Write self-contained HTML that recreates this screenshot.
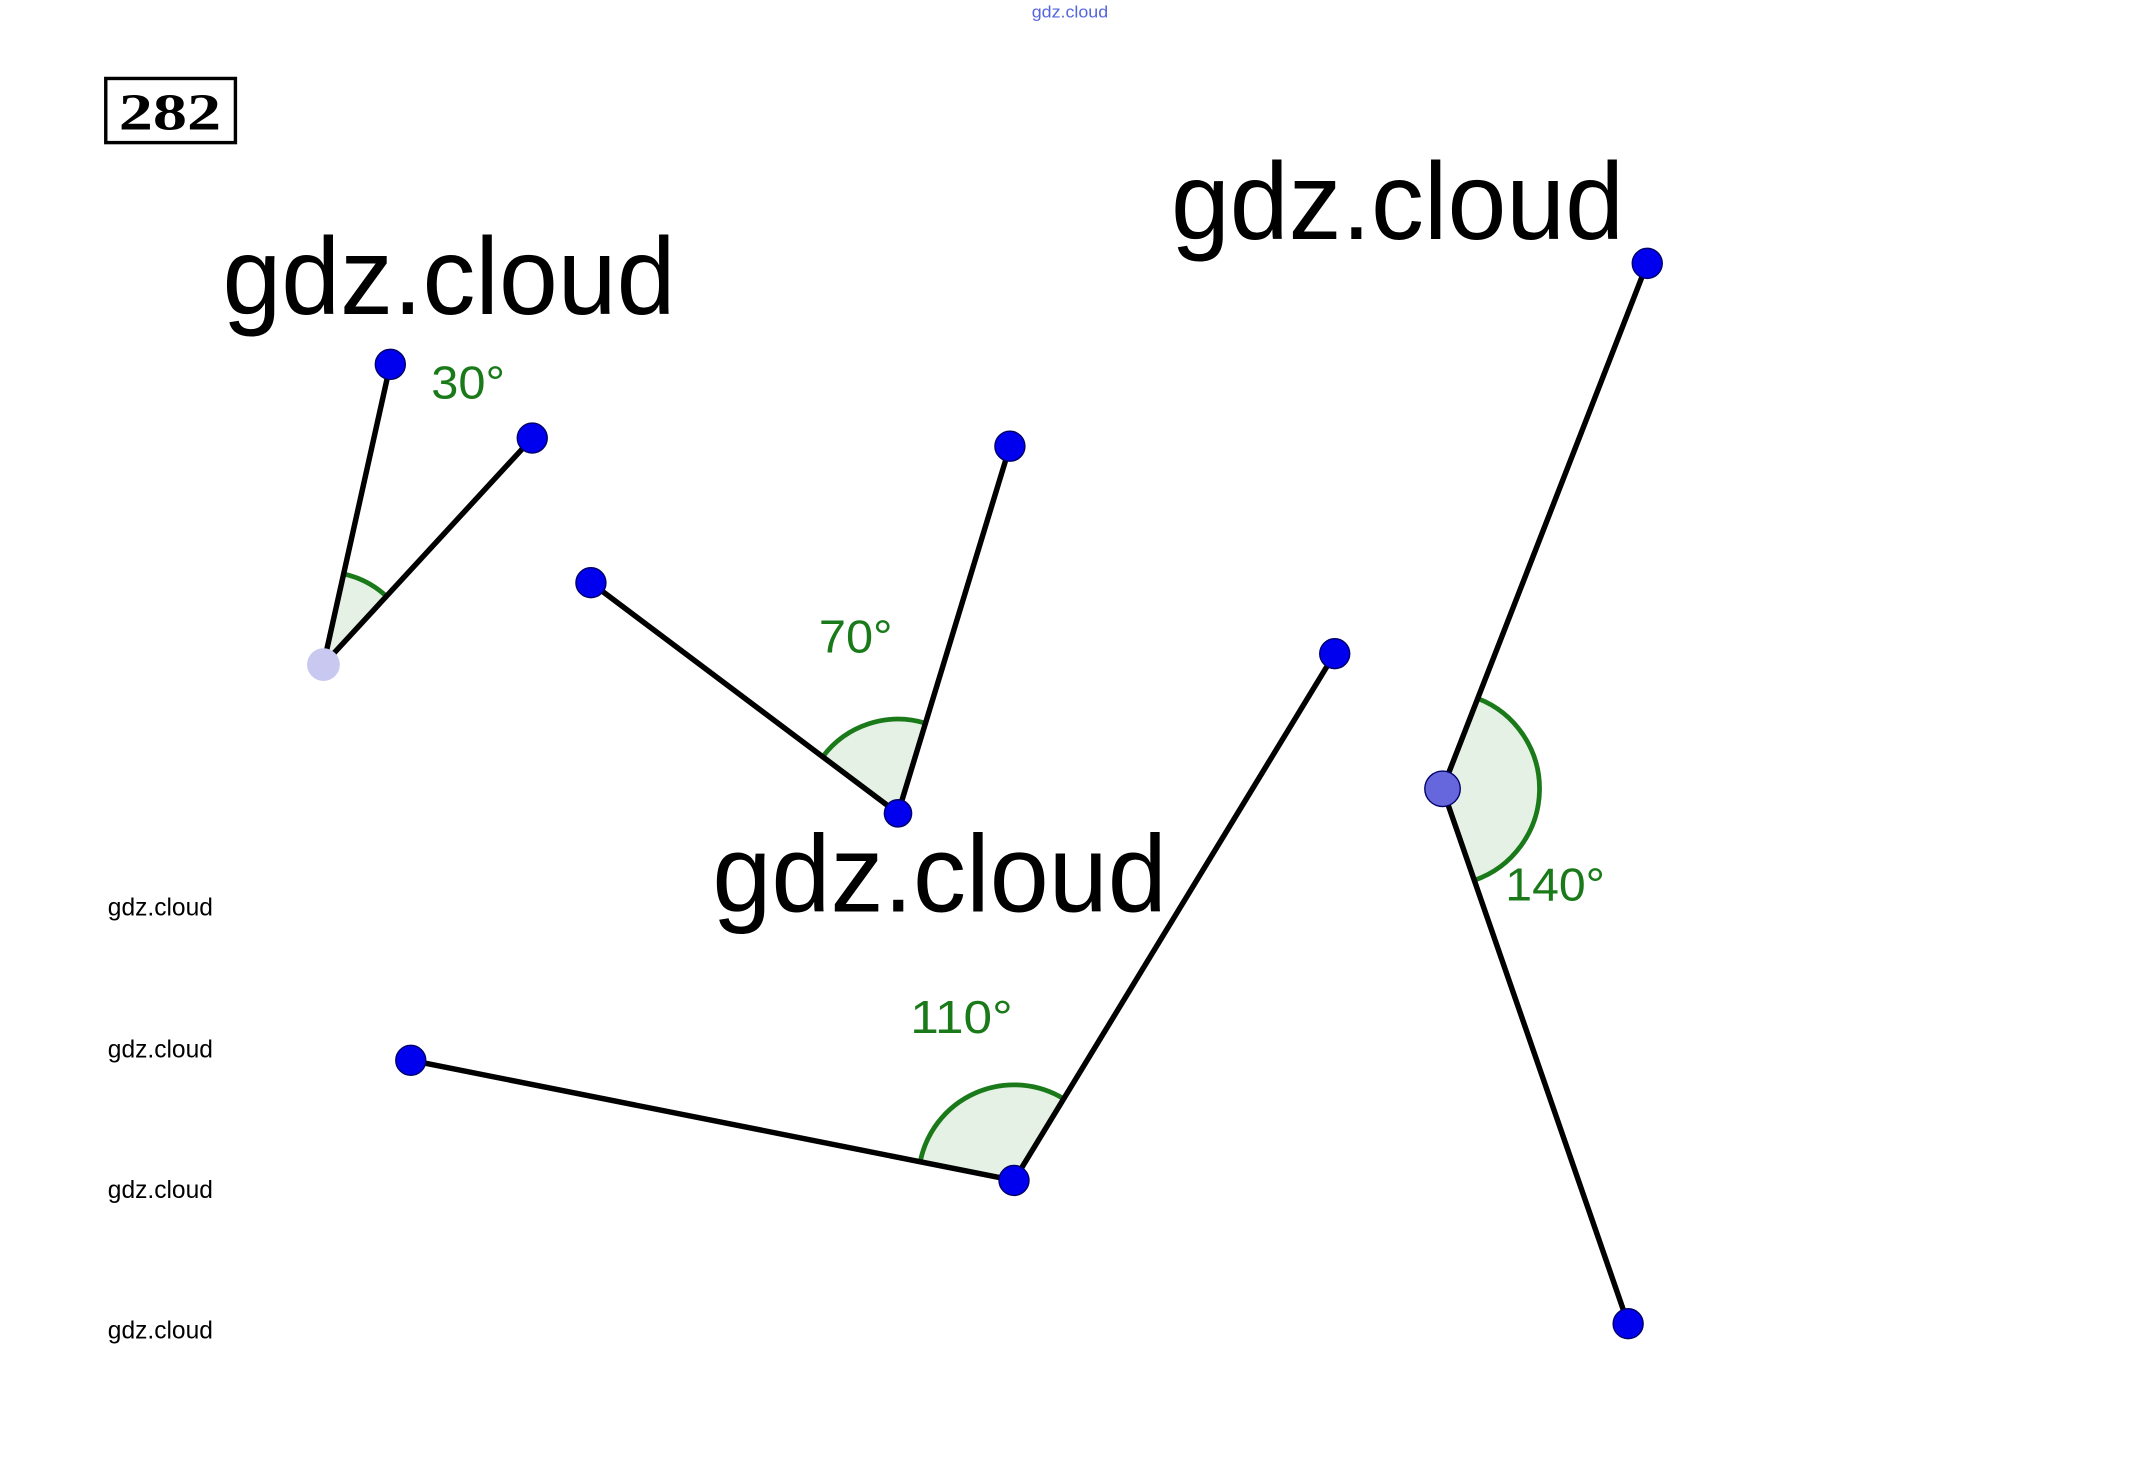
<!DOCTYPE html>
<html><head><meta charset="utf-8"><style>
html,body{margin:0;padding:0;background:#fff;}
svg{display:block;}
</style></head><body>
<svg width="2129" height="1467" viewBox="0 0 1560 1075" preserveAspectRatio="none" xmlns="http://www.w3.org/2000/svg">
<rect width="1560" height="1075" fill="#fff"/>
<text x="756" y="13" font-family="Liberation Sans, sans-serif" font-size="12" fill="#5566dd" textLength="56" lengthAdjust="spacingAndGlyphs">gdz.cloud</text>
<rect x="77.5" y="57.5" width="95" height="47" fill="none" stroke="#000" stroke-width="2.5"/>
<text x="87" y="95" font-family="Liberation Serif, serif" font-weight="bold" font-size="38" fill="#000" textLength="75" lengthAdjust="spacingAndGlyphs">282</text>

<g fill="#e4f1e4">
<path d="M237,487 L251.8,420.6 A68,68 0 0 1 283.2,437 Z"/>
<path d="M658,596 L602.8,554.6 A69,69 0 0 1 678.2,530 Z"/>
<path d="M743,865 L674.3,851.3 A70,70 0 0 1 779.4,805.2 Z"/>
<path d="M1057,578 L1082.8,511.8 A71,71 0 0 1 1080.2,645.1 Z"/>
</g>
<g fill="none" stroke="#1a7a1a" stroke-width="3.5">
<path d="M251.8,420.6 A68,68 0 0 1 283.2,437"/>
<path d="M602.8,554.6 A69,69 0 0 1 678.2,530"/>
<path d="M674.3,851.3 A70,70 0 0 1 779.4,805.2"/>
<path d="M1082.8,511.8 A71,71 0 0 1 1080.2,645.1"/>
</g>
<g stroke="#000" stroke-width="4" stroke-linecap="round">
<line x1="237" y1="487" x2="286" y2="267"/>
<line x1="237" y1="487" x2="390" y2="321"/>
<line x1="658" y1="596" x2="433" y2="427"/>
<line x1="658" y1="596" x2="740" y2="327"/>
<line x1="743" y1="865" x2="301" y2="777"/>
<line x1="743" y1="865" x2="978" y2="479"/>
<line x1="1057" y1="578" x2="1207" y2="193"/>
<line x1="1057" y1="578" x2="1193" y2="970"/>
</g>
<g fill="#0000ee" stroke="#000066" stroke-width="1">
<circle cx="286" cy="267" r="11"/>
<circle cx="390" cy="321" r="11"/>
<circle cx="433" cy="427" r="11"/>
<circle cx="740" cy="327" r="11"/>
<circle cx="658" cy="596" r="10"/>
<circle cx="301" cy="777" r="11"/>
<circle cx="978" cy="479" r="11"/>
<circle cx="743" cy="865" r="11"/>
<circle cx="1207" cy="193" r="11"/>
<circle cx="1193" cy="970" r="11"/>
<circle cx="1057" cy="578" r="13" fill="#6666dd"/>
</g>
<circle cx="237" cy="487" r="12" fill="#c8c8f0"/>
<g font-family="Liberation Sans, sans-serif" fill="#1a7a1a" font-size="34">
<text x="316" y="292" textLength="54" lengthAdjust="spacingAndGlyphs">30°</text>
<text x="600" y="478" textLength="54" lengthAdjust="spacingAndGlyphs">70°</text>
<text x="667" y="757" textLength="75" lengthAdjust="spacingAndGlyphs">110°</text>
<text x="1103" y="660" textLength="73" lengthAdjust="spacingAndGlyphs">140°</text>
</g>
<g font-family="Liberation Sans, sans-serif" fill="#000" font-size="80">
<text x="163" y="230" textLength="332" lengthAdjust="spacingAndGlyphs">gdz.cloud</text>
<text x="858" y="175" textLength="332" lengthAdjust="spacingAndGlyphs">gdz.cloud</text>
<text x="522" y="668" textLength="333" lengthAdjust="spacingAndGlyphs">gdz.cloud</text>
</g>
<g font-family="Liberation Sans, sans-serif" fill="#000" font-size="18">
<text x="79" y="671" textLength="77" lengthAdjust="spacingAndGlyphs">gdz.cloud</text>
<text x="79" y="775" textLength="77" lengthAdjust="spacingAndGlyphs">gdz.cloud</text>
<text x="79" y="878" textLength="77" lengthAdjust="spacingAndGlyphs">gdz.cloud</text>
<text x="79" y="981" textLength="77" lengthAdjust="spacingAndGlyphs">gdz.cloud</text>
</g>
</svg>
</body></html>
